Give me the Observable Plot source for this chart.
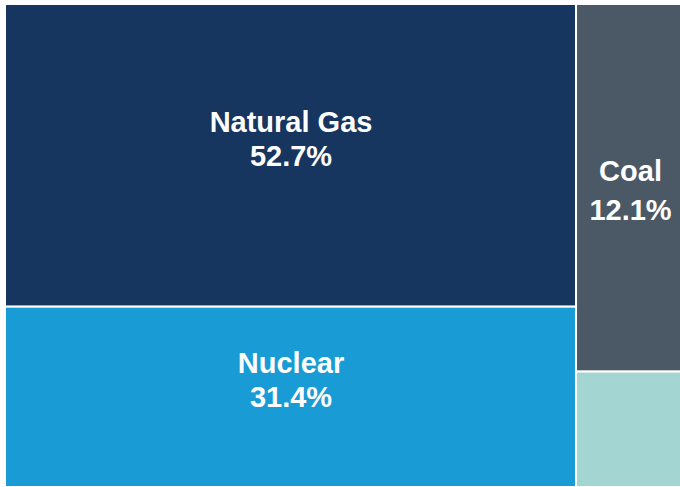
<!DOCTYPE html>
<html>
<head>
<meta charset="utf-8">
<script src="https://cdn.jsdelivr.net/npm/d3@7"></script>
<script src="https://cdn.jsdelivr.net/npm/@observablehq/plot@0.6"></script>
<style>
  html, body { margin: 0; padding: 0; background: #ffffff; overflow: hidden; }
  #chart svg { display: block; }
</style>
</head>
<body>
<div id="chart"></div>
<script>
// Data
const sources = ["Natural Gas", "Nuclear", "Coal", "Other"];
const shares  = [52.7, 31.4, 12.1, 3.8];
const groups  = ["A", "A", "B", "B"];          // treemap column of each source
const showLabel = [true, true, true, false];
const colors  = ["#163660", "#199bd6", "#4b5865", "#a3d5d3"];

// Build a simple slice-and-dice treemap in data units (x: 0..100 share, y: 0..100 share within column)
const total = d3.sum(shares);
const rows = [];
let xStart = 0;
for (const g of Array.from(new Set(groups))) {
  const idx = sources.map((_, i) => i).filter(i => groups[i] === g);
  const colSum = d3.sum(idx, i => shares[i]);
  const x1 = xStart, x2 = xStart + colSum / total * 100;
  let yStart = 0;
  for (const i of idx) {
    const h = shares[i] / colSum * 100;
    rows.push({
      source: sources[i], share: shares[i], group: g, label: showLabel[i],
      x1, x2, y1: yStart, y2: yStart + h,
      cx: (x1 + x2) / 2, cy: yStart + h / 2
    });
    yStart += h;
  }
  xStart = x2;
}

const chart = Plot.plot({
  width: 680,
  height: 487,
  style: { background: "#ffffff", fontFamily: "Liberation Sans, Arial, sans-serif" },
  x: { domain: [0, 100], range: [5, 684], axis: null },
  y: { domain: [0, 100], range: [4, 487], axis: null },
  color: { domain: sources, range: colors },
  marks: [
    Plot.rect(rows, {
      x1: "x1", x2: "x2", y1: "y1", y2: "y2",
      fill: "source", stroke: "#ffffff", strokeWidth: 2
    }),
    Plot.text(rows.filter(d => d.label && d.group === "A"), {
      x: "cx", y: "cy",
      text: d => `${d.source}\n${d.share.toFixed(1)}%`,
      fill: "#ffffff", fontSize: 29, fontWeight: "bold",
      lineHeight: 1.18, dy: -18
    }),
    Plot.text(rows.filter(d => d.label && d.group === "B"), {
      x: "cx", y: "cy",
      text: d => `${d.source}\n${d.share.toFixed(1)}%`,
      fill: "#ffffff", fontSize: 29, fontWeight: "bold",
      lineHeight: 1.33, dy: 0
    })
  ]
});
document.getElementById("chart").appendChild(chart);
</script>
</body>
</html>
